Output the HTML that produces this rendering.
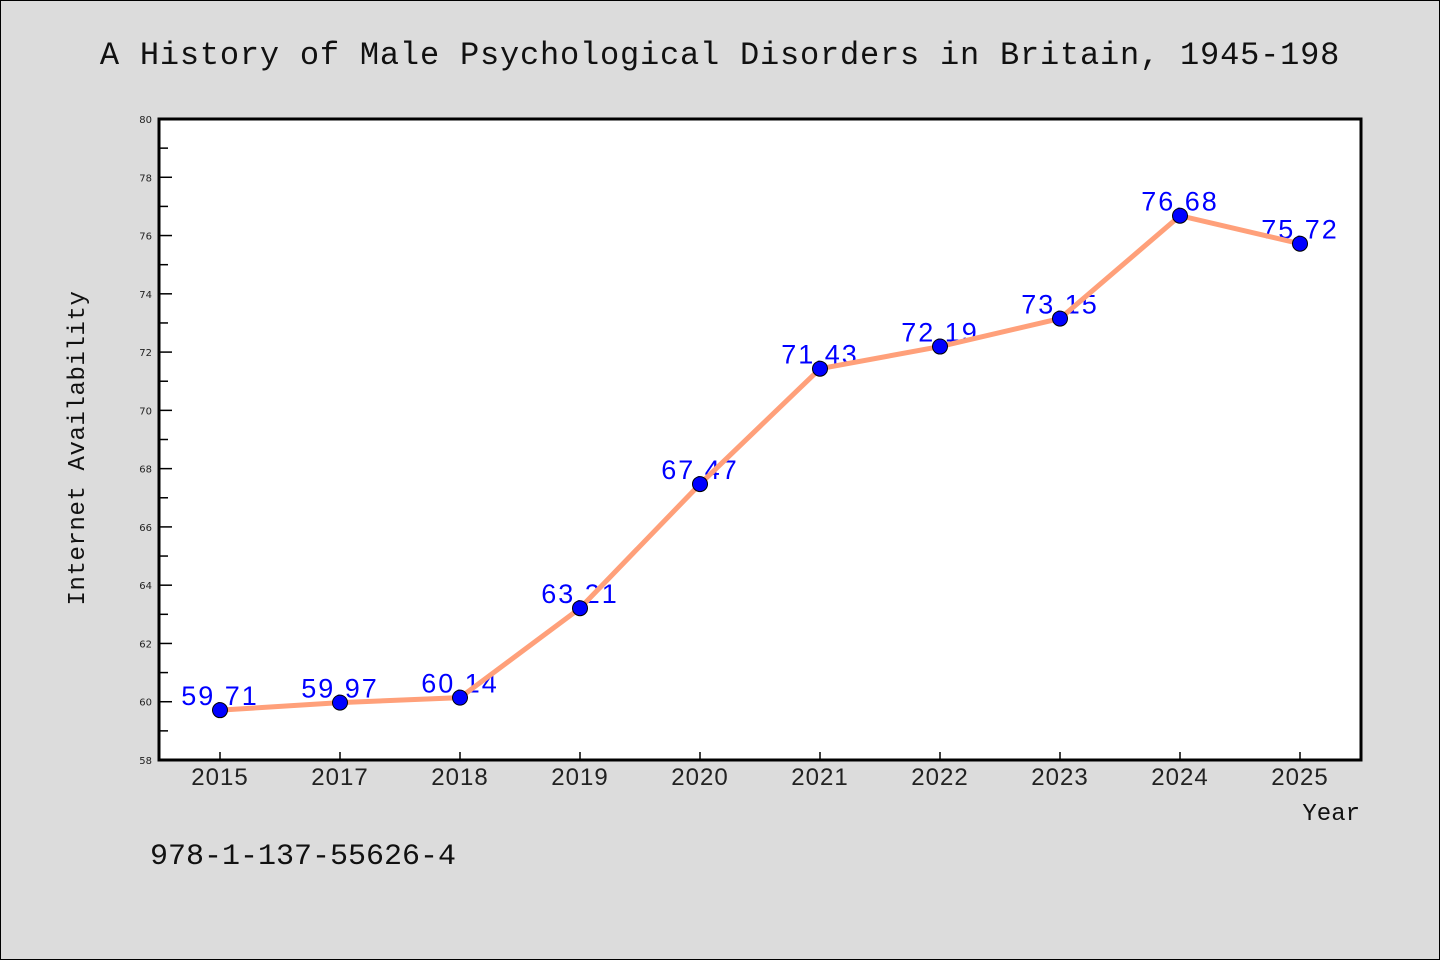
<!DOCTYPE html>
<html><head><meta charset="utf-8"><style>
body{margin:0;background:#dcdcdc}
svg{display:block}
</style></head><body>
<svg width="1440" height="960" xmlns="http://www.w3.org/2000/svg">
<rect x="0.5" y="0.5" width="1439" height="959" fill="#dcdcdc" stroke="#000" stroke-width="1"/>
<text x="720" y="64" text-anchor="middle" font-family="Liberation Mono, monospace" font-size="32" letter-spacing="0.8" fill="#111">A History of Male Psychological Disorders in Britain, 1945-198</text>
<rect x="159" y="119" width="1202" height="641" fill="#fff"/>
<g id="ticks"></g>
<g id="labels"></g>
<g id="series"></g>
<rect x="159" y="119" width="1202" height="641" fill="none" stroke="#000" stroke-width="3"/>
<text transform="translate(84,448) rotate(-90)" text-anchor="middle" font-family="Liberation Mono, monospace" font-size="24" letter-spacing="0.6" fill="#111">Internet Availability</text>
<text x="1360" y="820" text-anchor="end" font-family="Liberation Mono, monospace" font-size="24" fill="#111">Year</text>
<text x="150" y="864" font-family="Liberation Mono, monospace" font-size="30" fill="#111">978-1-137-55626-4</text>
</svg>
<script>
const categories=["2015","2017","2018","2019","2020","2021","2022","2023","2024","2025"];
const values=[59.71,59.97,60.14,63.21,67.47,71.43,72.19,73.15,76.68,75.72];
const yTicks=[58,60,62,64,66,68,70,72,74,76,78,80];
const yMin=58,yMax=80;
const NS="http://www.w3.org/2000/svg";
const L=159,R=1361,T=119,B=760;
function xs(i){return 220+i*(1300-220)/(categories.length-1);}
function ys(v){return B-(v-yMin)/(yMax-yMin)*(B-T);}
function mk(tag,attrs,parent){const e=document.createElementNS(NS,tag);for(const k in attrs)e.setAttribute(k,attrs[k]);parent.appendChild(e);return e;}
const tg=document.getElementById('ticks');
yTicks.forEach((t,i)=>{
  const y=ys(t);
  const ln=mk('line',{x1:L,x2:L+13,y1:y,y2:y,stroke:'#000','stroke-width':1.5},tg);
  
  
  const tx=mk('text',{x:152,y:y+4,'text-anchor':'end','font-family':'DejaVu Sans, sans-serif','font-size':10,fill:'#222'},tg);
  tx.textContent=t;
  
  
  if(i<yTicks.length-1){
    const ym=ys(t+(yTicks[1]-yTicks[0])/2);
    const mn=mk('line',{x1:L,x2:L+9,y1:ym,y2:ym,stroke:'#000','stroke-width':1.5},tg);
    
    
  }
});
categories.forEach((c,i)=>{
  const x=xs(i);
  const ln=mk('line',{x1:x,x2:x,y1:B,y2:B-8,stroke:'#000','stroke-width':1.5},tg);
  
  
  const tx=mk('text',{x:x,y:785,'text-anchor':'middle','font-family':'Liberation Sans, sans-serif','font-size':24,'letter-spacing':1,fill:'#222'},tg);
  tx.textContent=c;
  
  
});
const lg=document.getElementById('labels');
values.forEach((v,i)=>{
  const tx=mk('text',{x:xs(i),y:ys(v)-5,'text-anchor':'middle','font-family':'Liberation Sans, sans-serif','font-size':27,'letter-spacing':2,fill:'#0000ff'},lg);
  tx.textContent=v.toFixed(2);
  
  
});
const sg=document.getElementById('series');
const pl=mk('polyline',{points:values.map((v,i)=>xs(i)+','+ys(v)).join(' '),fill:'none',stroke:'#ffa07a','stroke-width':5},sg);


values.forEach((v,i)=>{
  const c=mk('circle',{cx:xs(i),cy:ys(v),r:7.5,fill:'#0000ff',stroke:'#000','stroke-width':1},sg);
  
  
});
</script>
</body></html>
